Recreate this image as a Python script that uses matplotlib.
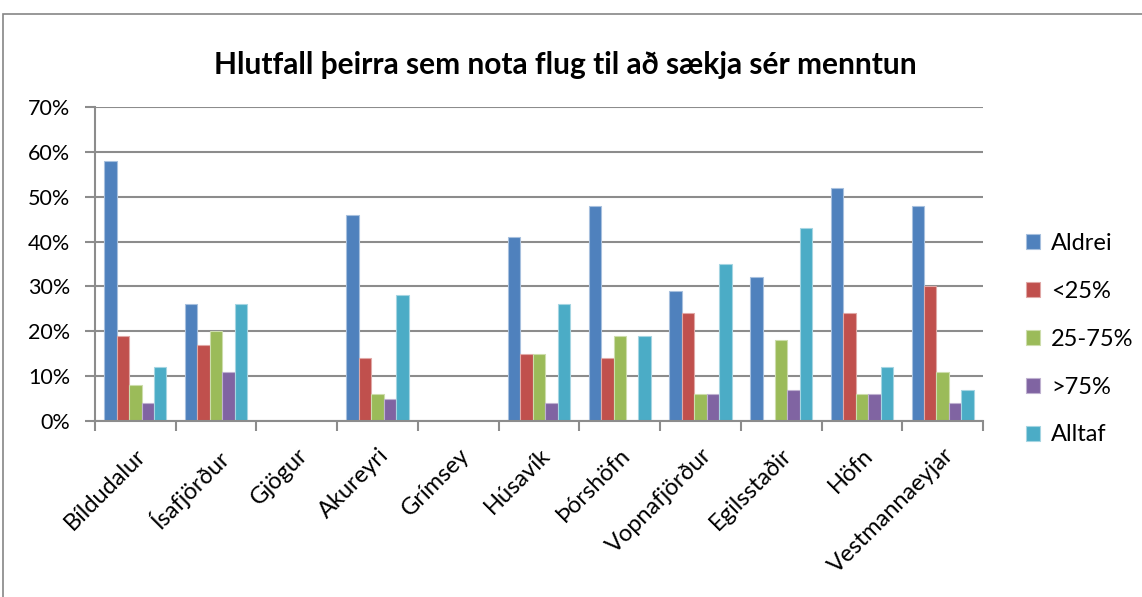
import numpy as np
import matplotlib
matplotlib.use("Agg")
import matplotlib.pyplot as plt
from matplotlib.patches import Rectangle
from matplotlib.ticker import FuncFormatter, FixedLocator

plt.rcParams['font.family'] = ['Lato', 'DejaVu Sans']

places = ['Bíldudalur', 'Ísafjörður', 'Gjögur', 'Akureyri', 'Grímsey', 'Húsavík',
          'Þórshöfn', 'Vopnafjörður', 'Egilsstaðir', 'Höfn', 'Vestmannaeyjar']
series_names = ['Aldrei', '<25%', '25-75%', '>75%', 'Alltaf']
aldrei = [58, 26, 0, 46, 0, 41, 48, 29, 32, 52, 48]
undir25 = [19, 17, 0, 14, 0, 15, 14, 24, 0, 24, 30]
milli = [8, 20, 0, 6, 0, 15, 19, 6, 18, 6, 11]
yfir75 = [4, 11, 0, 5, 0, 4, 0, 6, 7, 6, 4]
alltaf = [12, 26, 0, 28, 0, 26, 19, 35, 43, 12, 7]
colors = ['#4F81BD', '#C0504D', '#9BBB59', '#8064A2', '#4BACC6']
edges = ['#A7C0DE', '#E0A8A6', '#CDDDAC', '#BFB1D0', '#A5D5E2']

fig = plt.figure(figsize=(11.42, 5.97), dpi=100)
ax = fig.add_axes([0.0832, 0.2948, 0.7776, 0.526])

# chart border
fig.patches.append(Rectangle((3 / 1142, -0.1), 1.2, (597 - 14) / 597 + 0.1,
                             transform=fig.transFigure, fill=False,
                             edgecolor='#868686', linewidth=1.2))

x = np.arange(len(places))
width = 0.154
data = [aldrei, undir25, milli, yfir75, alltaf]
for i, (vals, name) in enumerate(zip(data, series_names)):
    ax.bar(x + (i - 2) * width, np.array(vals) / 100, width, color=colors[i],
           edgecolor=edges[i], linewidth=0.8, label=name, zorder=3)

ax.set_xlim(-0.5, len(places) - 0.5)
ax.set_ylim(0, 0.7)
ax.set_yticks(np.arange(0, 0.71, 0.1))
ax.yaxis.set_major_formatter(FuncFormatter(lambda v, p: f'{v * 100:.0f}%'))
ax.yaxis.grid(True, color='#8C8C8C', linewidth=1.5, zorder=0)
ax.set_axisbelow(True)

ax.set_xticks(x)
ax.set_xticklabels(places, rotation=45, ha='right', rotation_mode='anchor', fontsize=17)
ax.xaxis.set_minor_locator(FixedLocator(np.arange(-0.5, len(places), 1)))
ax.tick_params(axis='x', which='major', length=0, pad=17)
ax.tick_params(axis='x', which='minor', length=7, width=1.5, color='#8C8C8C', direction='out')
ax.tick_params(axis='y', length=7, width=1.5, color='#8C8C8C', labelsize=15.5, pad=11)

for side in ['top', 'right']:
    ax.spines[side].set_visible(False)
for side in ['left', 'bottom']:
    ax.spines[side].set_color('#8C8C8C')
    ax.spines[side].set_linewidth(1.5)
    ax.spines[side].set_zorder(4)

fig.text(0.495, 0.891, 'Hlutfall þeirra sem nota flug til að sækja sér menntun',
         ha='center', va='center', fontsize=21.5, fontweight='bold')

ax.legend(loc='center left', bbox_to_anchor=(0.880, 0.432), bbox_transform=fig.transFigure,
          frameon=False, fontsize=17, handlelength=0.6, handleheight=0.6,
          handletextpad=0.45, labelspacing=1.14)

fig.savefig('out.png', dpi=100)
